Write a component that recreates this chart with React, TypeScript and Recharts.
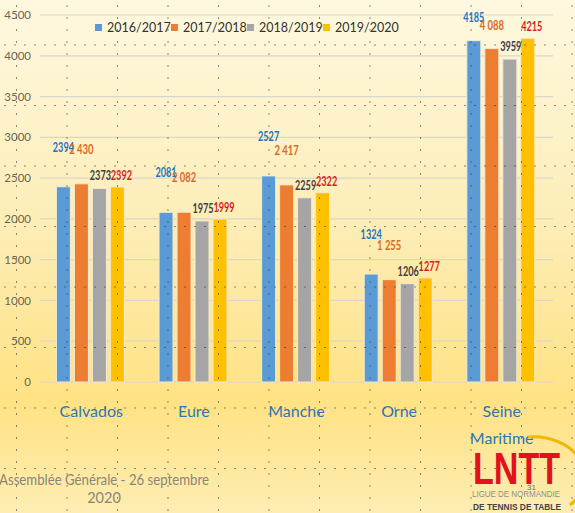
import React from 'react'
import { BarChart, Bar, XAxis, YAxis, CartesianGrid, Legend, LabelList, Text } from 'recharts'

const categories = ['Calvados', 'Eure', 'Manche', 'Orne', 'Seine Maritime']
const seasons = ['2016/2017', '2017/2018', '2018/2019', '2019/2020']
const s2016 = [2394, 2081, 2527, 1324, 4185]
const s2017 = [2430, 2082, 2417, 1255, 4088]
const s2018 = [2373, 1975, 2259, 1206, 3959]
const s2019 = [2392, 1999, 2322, 1277, 4215]
const yTicks = [0, 500, 1000, 1500, 2000, 2500, 3000, 3500, 4000, 4500]

const barColors = ['#5B9BD5', '#ED7D31', '#A5A5A5', '#FFC000']
const labelColors = ['#1F74C4', '#DA6A26', '#404040', '#D81B1B']

const data = categories.map((c, i) => ({
  name: c,
  a: s2016[i],
  b: s2017[i],
  c: s2018[i],
  d: s2019[i],
}))

const FONT = 'Lato, sans-serif'

const spaced = (v: number) => String(v).replace(/\B(?=(\d{3})+(?!\d))/g, ' ')

// narrow, Calibri-ish labels: squeeze the text to the width it had
const makeLabel = (color: string, lift: number, shift: number, minY: number, fmt?: boolean) => (p: any) => {
  const { x, y, width, value } = p
  const s = fmt ? spaced(value) : String(value)
  const digits = s.replace(/ /g, '').length
  const spaces = s.length - digits
  return (
    <text
      x={x + width / 2 + shift}
      y={Math.max(y - lift, minY)}
      textAnchor="middle"
      fill={color}
      fontSize={12.5}
      fontWeight="bold"
      fontFamily={FONT}
      textLength={digits * 5.3 + spaces * 3}
      lengthAdjust="spacingAndGlyphs"
    >
      {s}
    </text>
  )
}

const CatTick = (p: any) => {
  const { x, y, payload } = p
  return (
    <Text
      x={x}
      y={y + 16}
      width={80}
      textAnchor="middle"
      verticalAnchor="start"
      lineHeight={27}
      fill="#2E75B6"
      fontSize={16}
      fontFamily={FONT}
    >
      {payload.value}
    </Text>
  )
}

const LegendBox = () => (
  <div style={{ display: 'flex', fontFamily: FONT, fontSize: 12.5, color: '#333' }}>
    {seasons.map((s, i) => (
      <div key={s} style={{ width: 76, display: 'flex', alignItems: 'center' }}>
        <span style={{ width: 7, height: 7, background: barColors[i], marginRight: 5, display: 'inline-block' }} />
        {s}
      </div>
    ))}
  </div>
)

export default function App() {
  return (
    <div
      style={{
        position: 'absolute',
        left: 0,
        top: 0,
        width: 575,
        height: 513,
        overflow: 'hidden',
        background: 'linear-gradient(180deg, #FEF8E0 0%, #FDEDB5 45%, #FFE283 78%, #FEEDB3 100%)',
      }}
    >
      <BarChart
        width={575}
        height={513}
        data={data}
        margin={{ top: 15, right: 22, left: 0, bottom: 71 }}
        barGap={4}
        barCategoryGap="16%"
      >
        <CartesianGrid vertical={false} stroke="#D9D6CC" strokeWidth={1.2} />
        <XAxis
          dataKey="name"
          axisLine={false}
          tickLine={false}
          height={60}
          interval={0}
          tick={<CatTick />}
        />
        <YAxis
          domain={[0, 4500]}
          ticks={yTicks}
          width={40}
          axisLine={false}
          tickLine={false}
          tickSize={0}
          tickMargin={9}
          tick={{ fill: '#6A6552', fontSize: 11.5, fontFamily: FONT }}
        />
        <Legend
          verticalAlign="middle"
          align="center"
          content={<LegendBox />}
          wrapperStyle={{ top: 20, left: 95, width: 320 }}
        />
        <Bar dataKey="a" name={seasons[0]} fill={barColors[0]} stroke="#F3EBD0" strokeWidth={1} isAnimationActive={false}>
          <LabelList dataKey="a" content={makeLabel(labelColors[0], 35, 0, 22)} />
        </Bar>
        <Bar dataKey="b" name={seasons[1]} fill={barColors[1]} stroke="#F3EBD0" strokeWidth={1} isAnimationActive={false}>
          <LabelList dataKey="b" content={makeLabel(labelColors[1], 30, 0, 30, true)} />
        </Bar>
        <Bar dataKey="c" name={seasons[2]} fill={barColors[2]} stroke="#F3EBD0" strokeWidth={1} isAnimationActive={false}>
          <LabelList dataKey="c" content={makeLabel(labelColors[2], 8, 1, 0)} />
        </Bar>
        <Bar dataKey="d" name={seasons[3]} fill={barColors[3]} stroke="#F3EBD0" strokeWidth={1} isAnimationActive={false}>
          <LabelList dataKey="d" content={makeLabel(labelColors[3], 7, 4, 0)} />
        </Bar>
      </BarChart>

      {/* slide dot texture, sits over everything */}
      <div
        style={{
          position: 'absolute',
          inset: 0,
          pointerEvents: 'none',
          backgroundImage:
            'radial-gradient(circle, rgba(60,60,60,0.6) 0.7px, transparent 1.1px), radial-gradient(circle, rgba(60,60,60,0.6) 0.7px, transparent 1.1px)',
          backgroundSize: '50.5px 12px, 10px 60.5px',
          backgroundPosition: '41.75px 0px, 0px 14.75px',
        }}
      />

      <svg width={575} height={513} style={{ position: 'absolute', left: 0, top: 0, pointerEvents: 'none' }}>
        <text x={-1} y={485} fontSize={14.5} fill="#8A8676" fontFamily={FONT} textLength={210} lengthAdjust="spacingAndGlyphs">
          Assemblée Générale - 26 septembre
        </text>
        <text x={104} y={503} fontSize={14.5} fill="#8A8676" fontFamily={FONT} textAnchor="middle">
          2020
        </text>
        <path d="M 528 437 A 52 40 0 0 1 570 505" fill="none" stroke="#F2B705" strokeWidth={3} />
        <text x={473} y={484} fontSize={44} fontWeight="bold" fill="#E3101E" fontFamily="'Liberation Sans', sans-serif" textLength={87} lengthAdjust="spacingAndGlyphs">
          LNTT
        </text>
        <text x={472} y={497} fontSize={9} fill="#8F8F8F" fontFamily="'Liberation Sans', sans-serif" textLength={88} lengthAdjust="spacingAndGlyphs">
          LIGUE DE NORMANDIE
        </text>
        <text x={527} y={490} fontSize={8} fill="#666" fontFamily="'Liberation Sans', sans-serif">
          31
        </text>
        <text x={473} y={510} fontSize={9} fontWeight="bold" fill="#444" fontFamily="'Liberation Sans', sans-serif" textLength={88} lengthAdjust="spacingAndGlyphs">
          DE TENNIS DE TABLE
        </text>
      </svg>
    </div>
  )
}
